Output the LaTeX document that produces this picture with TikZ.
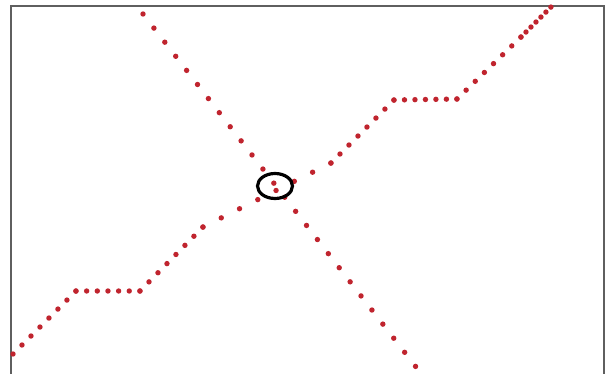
\documentclass[tikz,border=0pt]{standalone}
\usetikzlibrary{shapes.geometric}
\definecolor{dotred}{RGB}{192,36,46}
\definecolor{framegray}{RGB}{95,95,95}
\tikzset{
  dotline/.style={dotred, line width=5.4pt, line cap=round},
  frameline/.style={framegray, line width=1.3pt},
  ring/.style={ellipse, draw=black, line width=3.2pt, minimum width=35pt, minimum height=25pt, inner sep=0pt}
}
\begin{document}
\begin{tikzpicture}[x=1pt,y=-1pt]
\useasboundingbox (0,0) rectangle (606,374);
\clip (0,0) rectangle (606,374);
\fill[white] (0,0) rectangle (606,374);
\draw[frameline] (11,380) -- (11,6) -- (604,6) -- (604,380);
% coordinates of the polyline
\coordinate (p0) at (13,354);
\coordinate (p1) at (76,291);
\coordinate (p2) at (140,291);
\coordinate (p3) at (203,227);
\coordinate (p4) at (331,163);
\coordinate (p5) at (394,100);
\coordinate (p6) at (457,99);
\coordinate (p7) at (521,37);
\coordinate (p8) at (551,7);
% straight line end points
\coordinate (s0) at (143,14);
\coordinate (s1) at (416,367);
\draw[dotline, dash pattern=on 0pt off 17.82pt] (s0) -- (s1);
\draw[dotline, dash pattern=on 0pt off 12.71pt] (p0) -- (p1);
\draw[dotline, dash pattern=on 0pt off 10.65pt] (p1) -- (p2);
\draw[dotline, dash pattern=on 0pt off 12.81pt] (p2) -- (p3);
\draw[dotline, dash pattern=on 0pt off 20.42pt] (p3) -- (p4);
\draw[dotline, dash pattern=on 0pt off 12.71pt] (p4) -- (p5);
\draw[dotline, dash pattern=on 0pt off 10.48pt] (p5) -- (p6);
\draw[dotline, dash pattern=on 0pt off 12.71pt] (p6) -- (p7);
\draw[dotline, dash pattern=on 0pt off 7.05pt] (p7) -- (p8);
\node[ring] (e) at (275,186) {};
\end{tikzpicture}
\end{document}
